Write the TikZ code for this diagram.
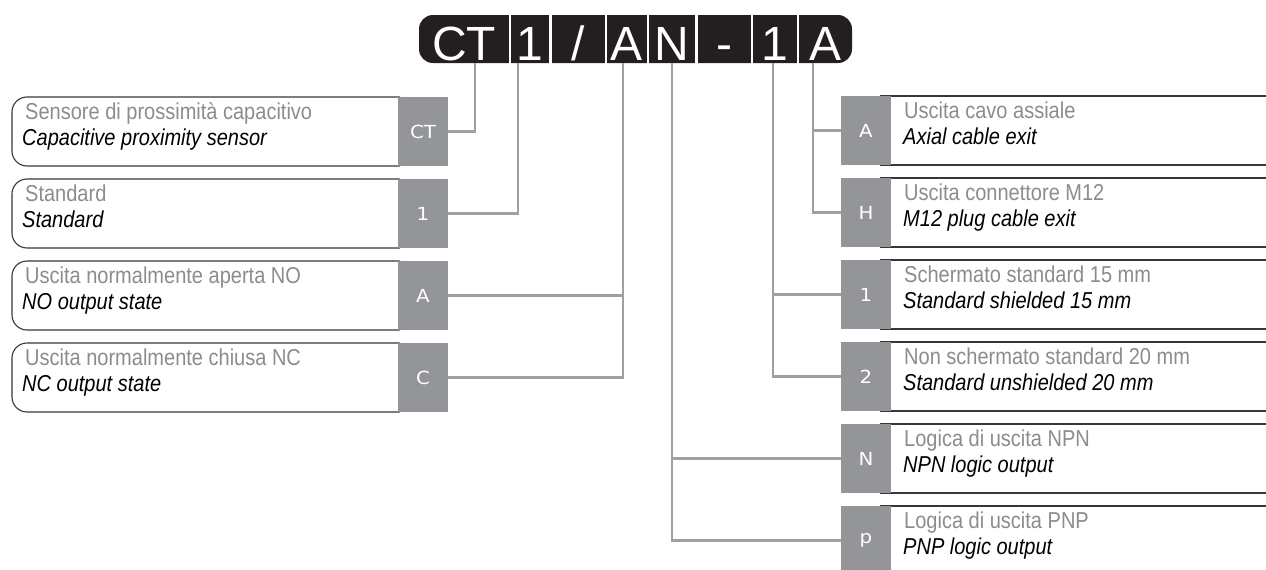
\documentclass[tikz,border=0pt]{standalone}
\usepackage{fontspec}
\setmainfont{Liberation Sans}
\newfontfamily\descfont[FakeStretch=0.87]{Liberation Sans}
\newfontfamily\barfont{Liberation Sans}
\newfontfamily\tabfont[FakeStretch=1.1]{DejaVu Sans}
\definecolor{conncol}{RGB}{158,160,163}
\definecolor{linecol}{RGB}{55,55,55}
\definecolor{tabcol}{RGB}{147,149,152}
\definecolor{graytext}{RGB}{138,140,143}
\definecolor{barcol}{RGB}{35,31,32}
\begin{document}
\begin{tikzpicture}[x=1pt,y=-1pt,
  conn/.style={draw=conncol, line width=2.2pt},
  boxline/.style={draw=linecol, line width=1.1pt},
  tabbox/.style={fill=tabcol, minimum width=50pt, minimum height=69pt, inner sep=0pt, text=white, font=\tabfont\fontsize{18}{18}\selectfont},
  ittext/.style={anchor=base west, inner sep=0pt, font=\descfont\itshape\fontsize{23}{23}\selectfont, text=black},
  grtext/.style={anchor=base west, inner sep=0pt, font=\descfont\fontsize{23}{23}\selectfont, text=graytext},
  cell/.style={anchor=base, inner sep=0pt, text=white, font=\barfont\fontsize{48}{48}\selectfont},
  sep/.style={draw=white, line width=2.2pt}]
\useasboundingbox (0,0) rectangle (1266,570);

% ---------- code bar ----------
\fill[barcol, rounded corners=14pt] (419,15) rectangle (852,63);
\foreach \xs in {510,550.5,606,648,696.5,752,798} \draw[sep] (\xs,14) -- (\xs,64);
\node[cell] (cCT) at (464,60) {CT};
\node[cell] (c1) at (530,60) {1};
\node[cell] (cSl) at (578,60) {/};
\node[cell] (cA) at (627,60) {A};
\node[cell] (cN) at (672,60) {N};
\node[cell] (cDa) at (724,60) {-};
\node[cell] (c1b) at (775,60) {1};
\node[cell] (cAb) at (825,60) {A};
\coordinate (bCT) at (475,63);
\coordinate (b1) at (518,63);
\coordinate (bA) at (623,63);
\coordinate (bN) at (672,63);
\coordinate (b1b) at (773,63);
\coordinate (bAb) at (813,63);

% ---------- left boxes ----------
\foreach \t in {97,179,261,343}
  \draw[boxline, rounded corners=15pt] (400,\t) -- (12,\t) -- (12,\t+69) -- (400,\t+69);
\node[tabbox] (lCT) at (423,131.5) {CT};
\node[tabbox] (l1) at (423,213.5) {1};
\node[tabbox] (lA) at (423,295.5) {A};
\node[tabbox] (lC) at (423,377.5) {C};

\node[grtext] (lCTg) at (25,119) {Sensore di prossimità capacitivo};
\node[ittext] (lCTi) at (22,145) {Capacitive proximity sensor};
\node[grtext] (l1g) at (25,201) {Standard};
\node[ittext] (l1i) at (22,227) {Standard};
\node[grtext] (lAg) at (25,283) {Uscita normalmente aperta NO};
\node[ittext] (lAi) at (22,309) {NO output state};
\node[grtext] (lCg) at (25,365) {Uscita normalmente chiusa NC};
\node[ittext] (lCi) at (22,391) {NC output state};

% ---------- right boxes ----------
\foreach \t in {96,178,260,342,424,506}
  {\draw[boxline] (880,\t) -- (1270,\t);
   \draw[boxline] (880,\t+69) -- (1270,\t+69);}
\node[tabbox] (rA) at (866,130.5) {A};
\node[tabbox] (rH) at (866,212.5) {H};
\node[tabbox] (r1) at (866,294.5) {1};
\node[tabbox] (r2) at (866,376.5) {2};
\node[tabbox] (rN) at (866,458.5) {N};
\node[tabbox] (rP) at (866,540.5) {p};

\node[grtext] (rAg) at (904,118) {Uscita cavo assiale};
\node[ittext] (rAi) at (903,144) {Axial cable exit};
\node[grtext] (rHg) at (904,200) {Uscita connettore M12};
\node[ittext] (rHi) at (903,226) {M12 plug cable exit};
\node[grtext] (r1g) at (904,282) {Schermato standard 15 mm};
\node[ittext] (r1i) at (903,308) {Standard shielded 15 mm};
\node[grtext] (r2g) at (904,364) {Non schermato standard 20 mm};
\node[ittext] (r2i) at (903,390) {Standard unshielded 20 mm};
\node[grtext] (rNg) at (904,446) {Logica di uscita NPN};
\node[ittext] (rNi) at (903,472) {NPN logic output};
\node[grtext] (rPg) at (904,528) {Logica di uscita PNP};
\node[ittext] (rPi) at (903,554) {PNP logic output};

% ---------- connectors ----------
\draw[conn] (lCT.east) -| (bCT);
\draw[conn] (l1.east) -| (b1);
\draw[conn] (lA.east) -| (bA);
\draw[conn] (lC.east) -| (bA);
\draw[conn] (rA.west) -| (bAb);
\draw[conn] (rH.west) -| (bAb);
\draw[conn] (r1.west) -| (b1b);
\draw[conn] (r2.west) -| (b1b);
\draw[conn] (rN.west) -| (bN);
\draw[conn] (rP.west) -| (bN);
\end{tikzpicture}
\end{document}
